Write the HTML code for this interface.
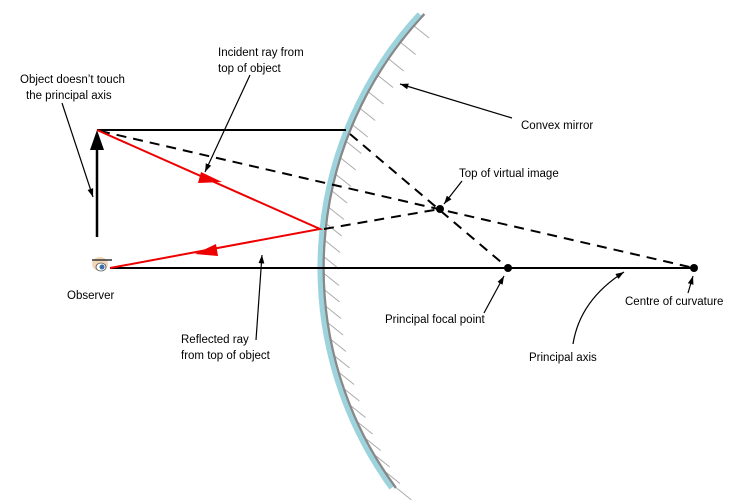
<!DOCTYPE html>
<html><head><meta charset="utf-8"><style>
html,body{margin:0;padding:0;background:#fff;}
svg{display:block;font-family:"Liberation Sans",Arial,sans-serif;font-size:11.5px;}
</style></head><body>
<svg id="s" width="750" height="500" viewBox="0 0 750 500">
<defs>
<marker id="a" viewBox="0 0 10 10" refX="10" refY="5" markerWidth="7" markerHeight="7" orient="auto"><path d="M0,1.5 L10,5 L0,8.5 z" fill="#000"/></marker>
</defs>
<g id="hatch" stroke="#aaa" stroke-width="1"></g>
<path d="M424.3,14 A370.5,370.5 0 0 0 395.9,488" fill="none" stroke="#888" stroke-width="2.5"/>
<path d="M419.5,14 A374,374 0 0 0 391.5,488" fill="none" stroke="#9dd3dc" stroke-width="5"/>
<!-- axis -->
<line x1="110" y1="268" x2="694" y2="268" stroke="#000" stroke-width="2"/>
<line x1="97" y1="130" x2="346" y2="130" stroke="#000" stroke-width="2"/>
<!-- object -->
<line x1="97" y1="237" x2="97" y2="145" stroke="#000" stroke-width="2.5"/>
<path d="M97,130 L90,150 L104,150 z" fill="#000"/>
<!-- dashed -->
<g stroke="#000" stroke-width="2" stroke-dasharray="10,7" fill="none">
<line x1="100" y1="131" x2="694" y2="268"/>
<line x1="350" y1="134" x2="508" y2="268"/>
<line x1="324" y1="229" x2="440" y2="209"/>
</g>
<!-- red rays -->
<g stroke="#e00" stroke-width="2" fill="none">
<polyline points="97,130 320,229 110,268"/>
</g>
<path d="M222,182 L201,172 L198,183 z" fill="#e00"/>
<path d="M195,254 L216,244 L218,256 z" fill="#e00"/>
<!-- dots -->
<circle cx="440" cy="209" r="4" fill="#000"/>
<circle cx="508" cy="268" r="4" fill="#000"/>
<circle cx="694" cy="268" r="4" fill="#000"/>
<!-- eye -->
<ellipse cx="100" cy="264" rx="8" ry="7" fill="#f0d8b8"/>
<ellipse cx="101" cy="267" rx="5" ry="4" fill="#fff" stroke="#555" stroke-width="0.8"/>
<circle cx="102" cy="267" r="2.5" fill="#3a6ea5"/>
<line x1="92" y1="260" x2="112" y2="260" stroke="#333" stroke-width="1.5"/>
<!-- leaders -->
<g stroke="#000" stroke-width="1.2" fill="none" marker-end="url(#a)">
<line x1="62" y1="103" x2="93" y2="197"/>
<line x1="250" y1="75" x2="205" y2="172"/>
<line x1="512" y1="118" x2="400" y2="84"/>
<line x1="462" y1="181" x2="444" y2="204"/>
<line x1="484" y1="313" x2="504" y2="276"/>
<line x1="688" y1="293" x2="693" y2="276"/>
<line x1="256" y1="340" x2="262" y2="255"/>
<path d="M573,344 Q580,300 624,272"/>
</g>
<!-- labels -->
<g fill="#000">
<text x="20" y="83">Object doesn’t touch</text>
<text x="26" y="99">the principal axis</text>
<text x="218" y="56">Incident ray from</text>
<text x="218" y="72">top of object</text>
<text x="521" y="129">Convex mirror</text>
<text x="459" y="177">Top of virtual image</text>
<text x="67" y="299">Observer</text>
<text x="385" y="323">Principal focal point</text>
<text x="625" y="305">Centre of curvature</text>
<text x="181" y="343">Reflected ray</text>
<text x="181" y="359">from top of object</text>
<text x="529" y="361">Principal axis</text>
</g>
</svg>
<script>
var g=document.getElementById('hatch'),cx=694,cy=268,r=370;
for(var y=26;y<490;y+=16.5){var dy=y-cy,x=cx-Math.sqrt(r*r-dy*dy);
var l=document.createElementNS('http://www.w3.org/2000/svg','line');
l.setAttribute('x1',x);l.setAttribute('y1',y);l.setAttribute('x2',x+15);l.setAttribute('y2',y+12);g.appendChild(l);}
</script>
</body></html>
